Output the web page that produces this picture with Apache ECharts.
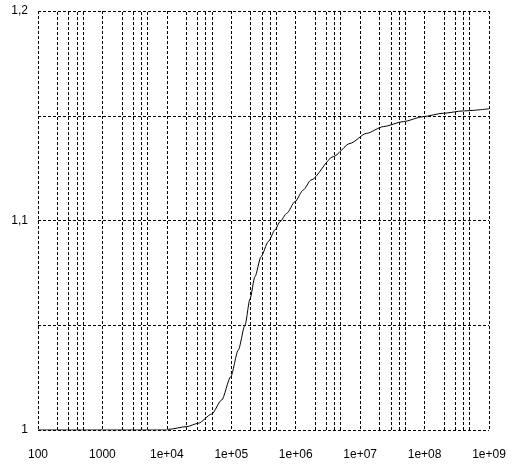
<!DOCTYPE html>
<html>
<head>
<meta charset="utf-8">
<script src="https://cdn.jsdelivr.net/npm/echarts@6/dist/echarts.min.js"></script>
<style>html,body{margin:0;padding:0;background:#fff}#c{width:512px;height:465px}</style>
</head>
<body>
<div id="c"></div>
<script>
var xValues = [100, 1000, 10000, 10520, 20320, 30760, 49660, 70960, 97950, 128500, 163300, 195000, 233300, 289100, 375000, 476400, 570200, 724400, 975000, 1312000, 1726000, 3828000, 6966000, 12590000, 22860000, 46770000, 95500000, 195000000, 398000000, 1000000000];
var yValues = [1.0, 1.0, 1.0, 1.0003, 1.0016, 1.0032, 1.0076, 1.0143, 1.0254, 1.0382, 1.0501, 1.0625, 1.0732, 1.0827, 1.0899, 1.0955, 1.0994, 1.1034, 1.109, 1.1146, 1.1193, 1.1305, 1.1368, 1.1416, 1.1448, 1.1472, 1.1496, 1.1512, 1.1523, 1.1533];
var xDecades = [100, 1000, 1e4, 1e5, 1e6, 1e7, 1e8];
var minorMultipliers = [2, 3, 4, 5];
var xTickLabels = {100: '100', 1000: '1000', 10000: '1e+04', 100000: '1e+05', 1000000: '1e+06', 10000000: '1e+07', 100000000: '1e+08', 1000000000: '1e+09'};

var dash = { color: '#000', width: 1, type: [3, 2] };
var minorLines = [];
xDecades.forEach(function (d) {
  minorMultipliers.forEach(function (m) { minorLines.push({ xAxis: d * m }); });
});

var chart = echarts.init(document.getElementById('c'), null, { renderer: 'canvas' });
chart.setOption({
  animation: false,
  backgroundColor: '#fff',
  grid: { left: 38, right: 23, top: 11, bottom: 35, containLabel: false },
  xAxis: {
    type: 'log', logBase: 10, min: 100, max: 1e9, interval: 1,
    axisLine: { show: false }, axisTick: { show: false },
    splitLine: { show: true, showMinLine: true, showMaxLine: true, lineStyle: dash },
    axisLabel: {
      margin: 19, color: '#000', fontFamily: 'Liberation Sans', fontSize: 12,
      showMinLabel: true, showMaxLabel: true,
      formatter: function (v) { var k = Math.round(v); return xTickLabels[k] !== undefined ? xTickLabels[k] : ''; }
    }
  },
  yAxis: {
    type: 'value', min: 1, max: 1.2, interval: 0.05,
    axisLine: { show: false }, axisTick: { show: false },
    splitLine: { show: true, showMinLine: true, showMaxLine: true, lineStyle: dash },
    axisLabel: {
      margin: 10, color: '#000', fontFamily: 'Liberation Sans', fontSize: 12,
      formatter: function (v) {
        var r = Math.round(v * 100);
        if (r % 10 !== 0) return '';
        var s = (r / 100).toString();
        return s.replace('.', ',');
      }
    }
  },
  series: [{
    type: 'line',
    data: xValues.map(function (x, i) { return [x, yValues[i]]; }),
    showSymbol: false, smooth: 0.25, smoothMonotone: 'x',
    lineStyle: { color: '#000', width: 1 },
    z: 5,
    markLine: {
      silent: true, symbol: 'none', animation: false,
      label: { show: false },
      lineStyle: dash,
      data: minorLines
    }
  }]
});
</script>
</body>
</html>
